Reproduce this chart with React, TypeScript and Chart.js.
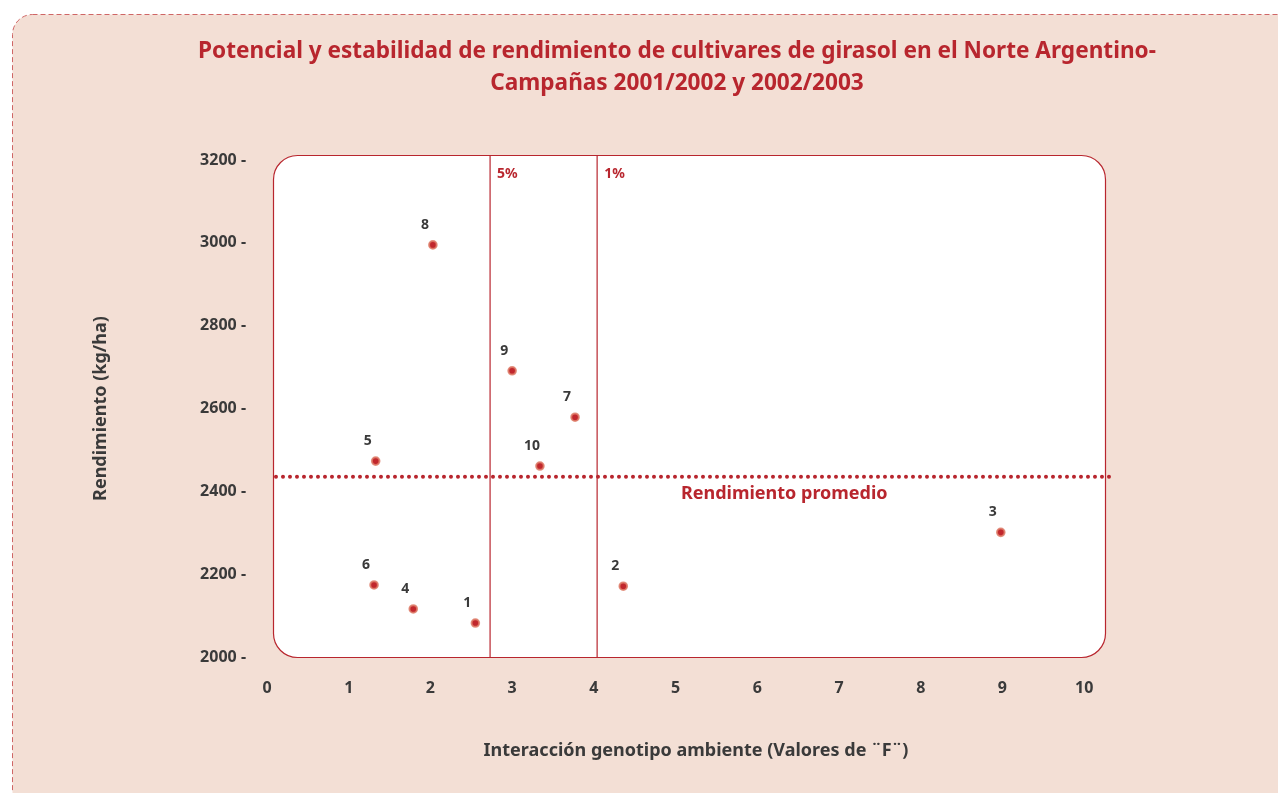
import React, { useEffect, useRef } from "react";
import { Chart, registerables } from "chart.js";

Chart.register(...registerables);

// ---- data ----
const genotypes = ["1", "2", "3", "4", "5", "6", "7", "8", "9", "10"];
const fValues = [2.55, 4.36, 8.98, 1.79, 1.33, 1.31, 3.77, 2.03, 3.0, 3.34];
const yields = [2082, 2171, 2301, 2116, 2473, 2174, 2579, 2995, 2691, 2461];
const meanYield = 2435;
const meanLabel = "Rendimiento promedio";
const meanLabelX = 6.33;
const meanLineFrom = 0.11;
const meanLineTo = 10.36;
const critical5 = 2.73;
const critical1 = 4.04;
const criticalLabels = ["5%", "1%"];
const lineTopY = 3212;
const xTicks = [0, 1, 2, 3, 4, 5, 6, 7, 8, 9, 10];
const yTicks = [2000, 2200, 2400, 2600, 2800, 3000, 3200];
const titleLines = [
  "Potencial y estabilidad de rendimiento de cultivares de girasol en el Norte Argentino-",
  "Campañas 2001/2002 y 2002/2003",
];
const xTitle = "Interacción genotipo ambiente (Valores de ¨F¨)";
const yTitle = "Rendimiento (kg/ha)";

const RED = "#b8262e";
const DARK = "#3a3a3a";
const BG = "#f3dfd5";
const FONT = "'Noto Sans', 'Open Sans', sans-serif";

const decorPlugin = {
  id: "decor",
  beforeDraw(chart: any) {
    const { ctx, width, height, chartArea } = chart;
    ctx.save();
    ctx.fillStyle = "#ffffff";
    ctx.fillRect(0, 0, width, height);
    // outer dashed panel
    ctx.beginPath();
    ctx.roundRect(12.5, 14.5, width + 20, height + 20, 20);
    ctx.fillStyle = BG;
    ctx.fill();
    ctx.setLineDash([5, 3]);
    ctx.strokeStyle = "#cf6666";
    ctx.lineWidth = 1;
    ctx.stroke();
    ctx.setLineDash([]);
    // white plot panel
    const l = chartArea.left + 6.5;
    const r = chartArea.right - 19.5;
    const t = chartArea.top - 4.5;
    const b = chartArea.bottom + 0.5;
    ctx.beginPath();
    ctx.roundRect(l, t, r - l, b - t, 24);
    ctx.fillStyle = "#ffffff";
    ctx.fill();
    ctx.strokeStyle = RED;
    ctx.lineWidth = 1.2;
    ctx.stroke();
    // title
    ctx.fillStyle = RED;
    ctx.font = `bold 22.6px ${FONT}`;
    ctx.textAlign = "center";
    ctx.textBaseline = "middle";
    titleLines.forEach((line, i) => {
      ctx.fillText(line, 677, 52 + i * 32);
    });
    ctx.restore();
  },
  afterDatasetsDraw(chart: any) {
    const { ctx, scales } = chart;
    const xs = scales.x;
    const ys = scales.y;
    ctx.save();
    // point labels
    ctx.fillStyle = DARK;
    ctx.font = `bold 14px ${FONT}`;
    ctx.textAlign = "center";
    ctx.textBaseline = "middle";
    genotypes.forEach((g, i) => {
      const px = xs.getPixelForValue(fValues[i]);
      const py = ys.getPixelForValue(yields[i]);
      ctx.fillText(g, px - 8, py - 20);
    });
    // critical labels
    ctx.fillStyle = RED;
    ctx.font = `bold 14px ${FONT}`;
    ctx.textAlign = "left";
    [critical5, critical1].forEach((v, i) => {
      ctx.fillText(criticalLabels[i], xs.getPixelForValue(v) + 7, ys.getPixelForValue(lineTopY) + 19);
    });
    // mean label
    ctx.font = `bold 18px ${FONT}`;
    ctx.textAlign = "center";
    ctx.fillText(meanLabel, xs.getPixelForValue(meanLabelX), ys.getPixelForValue(meanYield) + 17);
    ctx.restore();
  },
};

export default function App() {
  const ref = useRef<HTMLCanvasElement | null>(null);
  useEffect(() => {
    if (!ref.current) return;
    const chart = new Chart(ref.current, {
      type: "scatter",
      data: {
        datasets: [
          {
            type: "line",
            data: [
              { x: meanLineFrom, y: meanYield },
              { x: meanLineTo, y: meanYield },
            ],
            borderColor: RED,
            borderWidth: 4,
            borderDash: [0, 7],
            borderCapStyle: "round",
            pointRadius: 0,
            clip: false,
          } as any,
          {
            type: "line",
            data: [
              { x: critical5, y: 2000 },
              { x: critical5, y: lineTopY },
            ],
            borderColor: RED,
            borderWidth: 1.2,
            pointRadius: 0,
            clip: false,
          } as any,
          {
            type: "line",
            data: [
              { x: critical1, y: 2000 },
              { x: critical1, y: lineTopY },
            ],
            borderColor: RED,
            borderWidth: 1.2,
            pointRadius: 0,
            clip: false,
          } as any,
          {
            type: "scatter",
            data: fValues.map((x, i) => ({ x, y: yields[i] })),
            backgroundColor: "#c1272d",
            borderColor: "rgba(222,125,105,0.85)",
            borderWidth: 2,
            pointRadius: 3.8,
            clip: false,
          } as any,
        ],
      },
      options: {
        responsive: false,
        animation: false,
        devicePixelRatio: 1,
        layout: { padding: { left: 0, right: 153, top: 160, bottom: 0 } },
        plugins: {
          legend: { display: false },
          tooltip: { enabled: false },
          title: { display: false },
        },
        scales: {
          x: {
            type: "linear",
            min: 0,
            max: 10.5,
            afterBuildTicks: (scale: any) => {
              scale.ticks = xTicks.map((v) => ({ value: v }));
            },
            afterFit: (scale: any) => {
              scale.height = 136;
            },
            grid: { display: false },
            border: { display: false },
            ticks: {
              padding: 14,
              color: DARK,
              font: { family: FONT, size: 16, weight: "bold" },
              maxRotation: 0,
              autoSkip: false,
            },
            title: {
              display: true,
              text: xTitle,
              color: DARK,
              font: { family: FONT, size: 18, weight: "bold", lineHeight: 1.2 },
              padding: { top: 0, bottom: 31 },
            },
          },
          y: {
            type: "linear",
            min: 2000,
            max: 3200,
            afterBuildTicks: (scale: any) => {
              scale.ticks = yTicks.map((v) => ({ value: v }));
            },
            afterFit: (scale: any) => {
              scale.width = 267;
            },
            grid: { display: false },
            border: { display: false },
            ticks: {
              padding: 13,
              color: DARK,
              font: { family: FONT, size: 16, weight: "bold" },
              callback: (v: any) => `${v} -`,
            },
            title: {
              display: true,
              text: yTitle,
              color: DARK,
              font: { family: FONT, size: 18, weight: "bold", lineHeight: 1.2 },
              padding: { top: 90, bottom: 0 },
            },
          },
        },
      },
      plugins: [decorPlugin],
    } as any);
    return () => chart.destroy();
  }, []);
  return (
    <div style={{ position: "absolute", left: 0, top: 0, width: 1278, height: 793, overflow: "hidden" }}>
      <canvas ref={ref} width={1278} height={793} style={{ display: "block", width: 1278, height: 793 }} />
    </div>
  );
}
